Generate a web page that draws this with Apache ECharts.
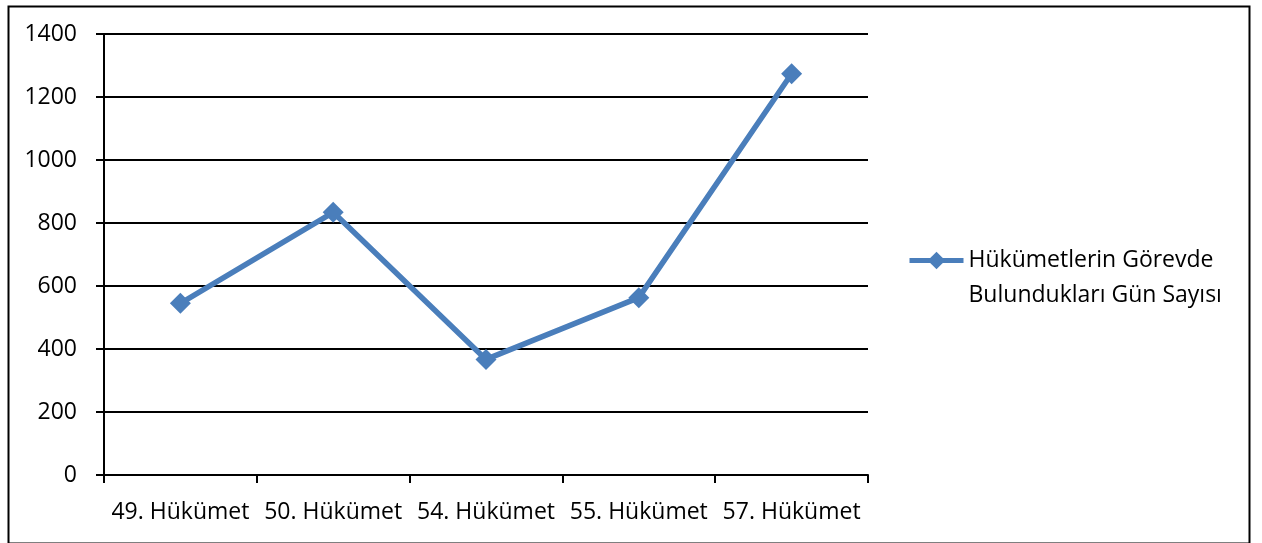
<!DOCTYPE html>
<html>
<head>
<meta charset="utf-8">
<style>
  html, body { margin: 0; padding: 0; background: #ffffff; }
  #chart { width: 1262px; height: 543px; }
</style>
<script src="https://cdn.jsdelivr.net/npm/echarts@6/dist/echarts.min.js"></script>
</head>
<body>
<div id="chart"></div>
<script>
// Governments and how many days each stayed in office
const categories = ['49. Hükümet', '50. Hükümet', '54. Hükümet', '55. Hükümet', '57. Hükümet'];
const daysInOffice = [545, 834, 367, 563, 1274];
const seriesName = 'Hükümetlerin Görevde Bulundukları Gün Sayısı';
const legendLines = ['Hükümetlerin Görevde', 'Bulundukları Gün Sayısı'];
const yTicks = { min: 0, max: 1400, step: 200 };

const FONT = 'Open Sans';
const FONT_SIZE = 23;
const LINE_BLUE = '#4a7ebb';

const chart = echarts.init(document.getElementById('chart'), null, { renderer: 'canvas' });

chart.setOption({
  backgroundColor: '#ffffff',
  animation: false,
  textStyle: { fontFamily: FONT, color: '#000' },
  grid: { left: 104, top: 34, width: 764, height: 441, containLabel: false },
  xAxis: {
    type: 'category',
    data: categories,
    boundaryGap: true,
    axisLine: { show: true, lineStyle: { color: '#000', width: 2 } },
    axisTick: { show: true, alignWithLabel: false, length: 8, lineStyle: { color: '#000', width: 2 } },
    axisLabel: { fontFamily: FONT, fontSize: FONT_SIZE, color: '#000', margin: 26, interval: 0 },
    splitLine: { show: false }
  },
  yAxis: {
    type: 'value',
    min: yTicks.min,
    max: yTicks.max,
    interval: yTicks.step,
    axisLine: { show: true, lineStyle: { color: '#000', width: 2 } },
    axisTick: { show: true, length: 8, lineStyle: { color: '#000', width: 2 } },
    axisLabel: {
      fontFamily: FONT, fontSize: FONT_SIZE, color: '#000', margin: 27,
      formatter: function (v) { return String(v); }
    },
    splitLine: { show: true, lineStyle: { color: '#000', width: 2 } }
  },
  legend: {
    show: true,
    orient: 'vertical',
    left: 907,
    top: 208,
    padding: 0,
    itemWidth: 54,
    itemHeight: 22,
    data: [seriesName],
    // blank first line keeps the icon level with the first line of text
    formatter: function () { return ' \n' + legendLines.join('\n'); },
    lineStyle: { width: 5, color: LINE_BLUE },
    itemStyle: { color: LINE_BLUE },
    textStyle: {
      fontFamily: FONT,
      fontSize: FONT_SIZE,
      color: '#000',
      lineHeight: 35
    }
  },
  series: [{
    name: seriesName,
    type: 'line',
    data: daysInOffice,
    symbol: 'diamond',
    symbolSize: 21,
    showSymbol: true,
    color: LINE_BLUE,
    lineStyle: { color: LINE_BLUE, width: 5.5 },
    itemStyle: { color: LINE_BLUE }
  }],
  graphic: [{
    type: 'rect',
    left: 6,
    top: 4,
    shape: { width: 1241, height: 537 },
    style: { fill: 'none', stroke: '#000', lineWidth: 2 },
    silent: true
  }]
});
</script>
</body>
</html>
